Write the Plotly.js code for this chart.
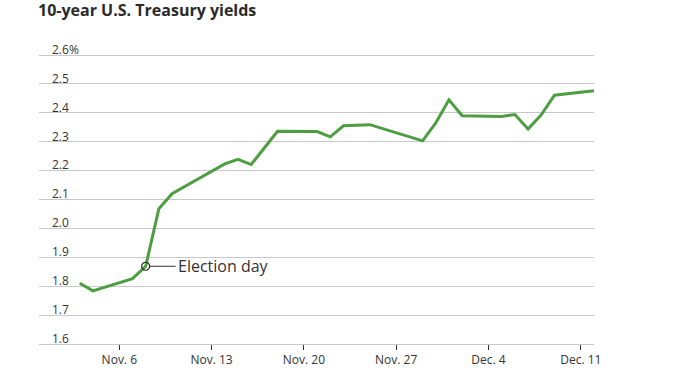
<!DOCTYPE html>
<html>
<head>
<meta charset="utf-8">
<script src="https://cdn.plot.ly/plotly-3.0.1.min.js"></script>
<style>html,body{margin:0;padding:0;background:#fff;}#chart{width:684px;height:383px;}</style>
</head>
<body>
<div id="chart"></div>
<script>
const dates = ['2016-11-03','2016-11-04','2016-11-07','2016-11-08','2016-11-09','2016-11-10',
  '2016-11-14','2016-11-15','2016-11-16','2016-11-18','2016-11-21','2016-11-22','2016-11-23',
  '2016-11-25','2016-11-29','2016-11-30','2016-12-01','2016-12-02','2016-12-05','2016-12-06',
  '2016-12-07','2016-12-08','2016-12-09','2016-12-12'];
const yields = [1.810,1.784,1.826,1.869,2.068,2.120,
  2.223,2.239,2.221,2.336,2.335,2.317,2.355,
  2.359,2.303,2.365,2.445,2.390,2.387,2.394,
  2.344,2.393,2.461,2.476];
const yTickVals = [1.6,1.7,1.8,1.9,2.0,2.1,2.2,2.3,2.4,2.5,2.6];
const yTickText = ['1.6','1.7','1.8','1.9','2.0','2.1','2.2','2.3','2.4','2.5','2.6%'];
const xTickVals = ['2016-11-06','2016-11-13','2016-11-20','2016-11-27','2016-12-04','2016-12-11'];
const xTickText = ['Nov. 6','Nov. 13','Nov. 20','Nov. 27','Dec. 4','Dec. 11'];
const electionDate = '2016-11-08';
const electionLabel = 'Election day';
const electionValue = yields[dates.indexOf(electionDate)];

const FONT = 'Open Sans, Noto Sans, sans-serif';

const traces = [
  {x: dates, y: yields, type: 'scatter', mode: 'lines',
   line: {color: '#4c9e41', width: 3}, hoverinfo: 'skip'},
  {x: [electionDate], y: [electionValue], type: 'scatter', mode: 'markers',
   marker: {symbol: 'circle-open', size: 8, color: '#222', line: {width: 1.2, color: '#222'}},
   hoverinfo: 'skip'}
];

const layout = {
  width: 684, height: 383,
  margin: {l: 39, r: 90, t: 25, b: 23},
  paper_bgcolor: '#fff', plot_bgcolor: '#fff',
  showlegend: false,
  font: {family: FONT, color: '#333', size: 12},
  title: {text: '10-year U.S. Treasury yields', xref: 'container', yref: 'container',
    x: 38/684, xanchor: 'left', y: 1 - 5/383, yanchor: 'top',
    font: {family: FONT, size: 16, weight: 'bold', color: '#2a2a2a'}},
  xaxis: {type: 'date', range: ['2016-10-30 21:50', '2016-12-12'],
    anchor: 'free', position: 16/335,
    tickvals: xTickVals, ticktext: xTickText, showgrid: false, zeroline: false,
    showline: false, ticks: 'outside', ticklen: 5, tickwidth: 1, tickcolor: '#333',
    tickfont: {family: FONT, size: 12, color: '#333'}, fixedrange: true},
  yaxis: {range: [1.54464, 2.70381], tickvals: yTickVals, ticktext: yTickText,
    showgrid: true, gridcolor: '#c8c8c8', gridwidth: 1, zeroline: false, showline: false,
    ticks: '', ticklabelposition: 'inside top', ticklabelstandoff: 10, ticklabelshift: 3,
    tickfont: {family: FONT, size: 12, color: '#333'}, fixedrange: true},
  annotations: [{x: electionDate, y: electionValue, xref: 'x', yref: 'y',
    text: electionLabel, showarrow: true, arrowhead: 0, arrowwidth: 1, arrowcolor: '#333',
    ax: 30, ay: 0, xanchor: 'left', standoff: 4,
    font: {family: FONT, size: 16, color: '#333'}}]
};

Plotly.newPlot('chart', traces, layout, {displayModeBar: false, staticPlot: true});
</script>
</body>
</html>
